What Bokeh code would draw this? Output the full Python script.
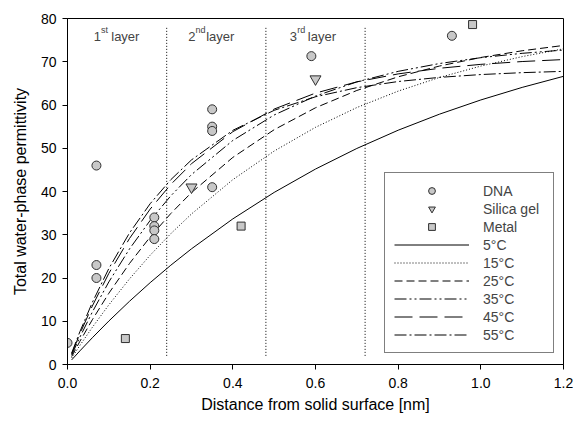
from bokeh.plotting import figure
from bokeh.models import (Range1d, FixedTicker, Legend, LegendItem, Label,
                          NumeralTickFormatter)
from bokeh.embed import file_html
from bokeh.resources import INLINE

# ---- data ----
dna_x = [0.0, 0.07, 0.07, 0.07, 0.21, 0.21, 0.21, 0.21, 0.35, 0.35, 0.35, 0.35, 0.59, 0.93]
dna_y = [5, 46, 23, 20, 34, 32, 31, 29, 59, 55, 54, 41, 71.3, 76]
silica_x = [0.30, 0.60]
silica_y = [41, 66]
metal_x = [0.14, 0.42, 0.98]
metal_y = [6, 32, 78.6]

curve_x = [0.01, 0.03, 0.06, 0.1, 0.15, 0.2, 0.25, 0.3, 0.4, 0.5, 0.6, 0.7, 0.8, 0.9, 1.0, 1.1, 1.2]
t5 = [1.06, 3.15, 6.18, 10.05, 14.62, 18.92, 22.96, 26.75, 33.67, 39.79, 45.19, 49.95, 54.17, 57.88, 61.17, 64.07, 66.63]
t15 = [1.50, 4.41, 8.58, 13.79, 19.79, 25.27, 30.26, 34.81, 42.74, 49.35, 54.84, 59.41, 63.21, 66.37, 69.00, 71.19, 73.00]
t25 = [1.83, 5.36, 10.34, 16.47, 23.36, 29.48, 34.92, 39.76, 47.88, 54.29, 59.36, 63.36, 66.52, 69.01, 70.99, 72.54, 73.77]
t35 = [2.17, 6.33, 12.12, 19.09, 26.72, 33.31, 39.00, 43.91, 51.80, 57.69, 62.07, 65.34, 67.78, 69.59, 70.94, 71.95, 72.70]
t45 = [2.45, 7.11, 13.51, 21.07, 29.14, 35.93, 41.64, 46.43, 53.83, 59.06, 62.75, 65.35, 67.19, 68.49, 69.40, 70.05, 70.51]
t55 = [2.63, 7.59, 14.34, 22.19, 30.42, 37.18, 42.74, 47.31, 54.15, 58.77, 61.90, 64.01, 65.43, 66.39, 67.04, 67.48, 67.78]

curve_labels = ["5°C", "15°C", "25°C", "35°C", "45°C", "55°C"]
curve_dashes = ["solid", "1 2", "8 4", "12 3 2 3 2 3", "18 7", "12 3 2 3"]

layer_bounds = [0.24, 0.48, 0.72]
layer_names = [("1", "st"), ("2", "nd"), ("3", "rd")]
layer_x = [0.0635, 0.292, 0.538]

x_ticks = [0.0, 0.2, 0.4, 0.6, 0.8, 1.0, 1.2]
y_ticks = [0, 10, 20, 30, 40, 50, 60, 70, 80]

FONT = "Liberation Sans"

p = figure(width=573, height=422, x_range=Range1d(0, 1.2), y_range=Range1d(0, 80),
           output_backend="svg", toolbar_location=None,
           min_border_left=67, min_border_right=10, min_border_top=18, min_border_bottom=58)
p.grid.visible = False
p.outline_line_color = "black"
p.outline_line_width = 1
p.background_fill_color = "white"

for ax in (p.xaxis[0], p.yaxis[0]):
    ax.axis_line_color = "black"
    ax.major_tick_line_color = "black"
    ax.minor_tick_line_color = None
    ax.major_tick_out = 5
    ax.major_tick_in = 0
    ax.major_label_text_font = FONT
    ax.major_label_text_font_size = "14px"
    ax.major_label_text_color = "black"
    ax.axis_label_text_font = FONT
    ax.axis_label_text_font_size = "16px"
    ax.axis_label_text_font_style = "normal"
    ax.axis_label_text_color = "black"

p.xaxis.ticker = FixedTicker(ticks=x_ticks)
p.xaxis.formatter = NumeralTickFormatter(format="0.0")
p.yaxis.ticker = FixedTicker(ticks=y_ticks)
p.xaxis.axis_label = "Distance from solid surface [nm]"
p.yaxis.axis_label = "Total water-phase permittivity"
p.xaxis.major_label_standoff = 8
p.xaxis.axis_label_standoff = 5
p.yaxis.major_label_standoff = 6
p.yaxis.axis_label_standoff = 9

# layer boundaries
p.segment(x0=layer_bounds, y0=[2] * 3, x1=layer_bounds, y1=[78] * 3,
          line_color="black", line_width=1, line_dash="1 2")

# curves
curve_renderers = []
for ys, dash in zip([t5, t15, t25, t35, t45, t55], curve_dashes):
    r = p.line(curve_x, ys, line_color="black", line_width=1, line_dash=dash)
    curve_renderers.append(r)

# markers
mk = dict(fill_color="#c8c8c8", line_color="#303030", line_width=1)
r_dna = p.scatter(dna_x, dna_y, marker="circle", size=9, **mk)
r_sil = p.scatter(silica_x, silica_y, marker="inverted_triangle", size=11, **mk)
r_met = p.scatter(metal_x, metal_y, marker="square", size=8, **mk)

# layer labels
for (num, sup), lx in zip(layer_names, layer_x):
    p.add_layout(Label(x=lx, y=75.75, text=num, text_font=FONT, text_font_size="13px",
                       text_baseline="alphabetic", text_align="left"))
    p.add_layout(Label(x=lx, y=75.75, x_offset=7.3, y_offset=6.5, text=sup, text_font=FONT,
                       text_font_size="9px", text_baseline="alphabetic", text_align="left"))
    p.add_layout(Label(x=lx, y=75.75, x_offset=18.0 if sup != "st" else 17.5, text="layer",
                       text_font=FONT, text_font_size="13px",
                       text_baseline="alphabetic", text_align="left"))

items = [LegendItem(label="DNA", renderers=[r_dna]),
         LegendItem(label="Silica gel", renderers=[r_sil]),
         LegendItem(label="Metal", renderers=[r_met])]
for lab, r in zip(curve_labels, curve_renderers):
    items.append(LegendItem(label=lab, renderers=[r]))

legend = Legend(items=items, location=(317, 11), orientation="vertical",
                glyph_width=75, glyph_height=17, label_height=17, label_width=61,
                label_standoff=14, spacing=1, padding=9, margin=0,
                label_text_font=FONT, label_text_font_size="14px",
                border_line_color="black", border_line_width=1,
                background_fill_color="white", background_fill_alpha=1.0)
p.add_layout(legend)

open("out.html", "w").write(file_html(p, INLINE))
